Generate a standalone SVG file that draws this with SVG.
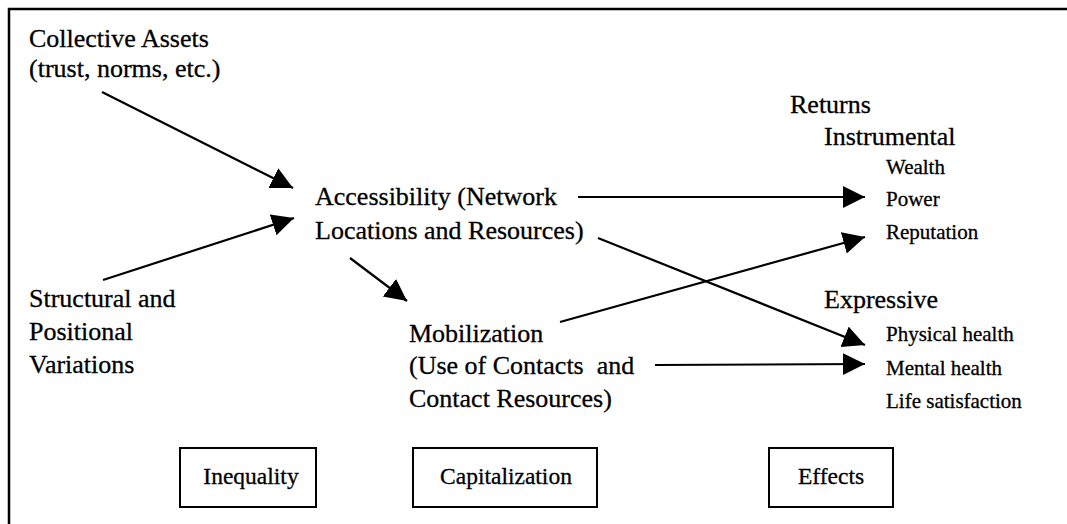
<svg xmlns="http://www.w3.org/2000/svg" width="1067" height="524" viewBox="0 0 1067 524" font-family="'Liberation Serif', 'Times New Roman', Times, 'DejaVu Serif', serif">
  <style>
    text { font-family: 'Liberation Serif', 'Times New Roman', Times, 'DejaVu Serif', serif; fill: #000; stroke: #000; stroke-width: 0.3; }
    .big { font-size: 26px; }
    .small { font-size: 21px; }
    .box-label { font-size: 23.5px; text-anchor: middle; }
    .frame { stroke: #000; stroke-width: 2.5; fill: none; }
    .box { fill: #fff; stroke: #000; stroke-width: 2; }
    .conn { stroke: #000; stroke-width: 2.2; fill: none; marker-end: url(#head); }
  </style>
  <defs>
    <marker id="head" markerUnits="userSpaceOnUse" markerWidth="24" markerHeight="24" refX="22" refY="11" orient="auto">
      <path d="M0,0 L22,11 L0,22 Z" fill="#000"/>
    </marker>
  </defs>

  <rect width="1067" height="524" fill="#fff"/>

  <!-- frame: top and left rules -->
  <path class="frame" d="M9,524 V9 H1067"/>

  <g id="collective-assets">
    <text class="big" x="29" y="47">Collective Assets</text>
    <text class="big" x="29" y="77">(trust, norms, etc.)</text>
  </g>

  <g id="structural-variations">
    <text class="big" x="29" y="307">Structural and</text>
    <text class="big" x="29" y="340">Positional</text>
    <text class="big" x="29" y="373">Variations</text>
  </g>

  <g id="accessibility">
    <text class="big" x="315" y="205">Accessibility (Network</text>
    <text class="big" x="315" y="239">Locations and Resources)</text>
  </g>

  <g id="mobilization">
    <text class="big" x="409" y="342">Mobilization</text>
    <text class="big" x="409" y="374" xml:space="preserve">(Use of Contacts  and</text>
    <text class="big" x="409" y="407">Contact Resources)</text>
  </g>

  <g id="returns">
    <text class="big" x="790" y="113">Returns</text>
    <text class="big" x="824" y="145">Instrumental</text>
    <text class="small" x="886" y="174">Wealth</text>
    <text class="small" x="886" y="206">Power</text>
    <text class="small" x="886" y="239">Reputation</text>
    <text class="big" x="824" y="308">Expressive</text>
    <text class="small" x="886" y="341">Physical health</text>
    <text class="small" x="886" y="375">Mental health</text>
    <text class="small" x="886" y="408">Life satisfaction</text>
  </g>

  <g id="inequality">
    <rect class="box" x="180" y="448" width="136" height="59"/>
    <text class="box-label" x="251" y="484">Inequality</text>
  </g>

  <g id="capitalization">
    <rect class="box" x="413" y="448" width="184" height="59"/>
    <text class="box-label" x="506" y="484">Capitalization</text>
  </g>

  <g id="effects">
    <rect class="box" x="769" y="448" width="124" height="59"/>
    <text class="box-label" x="831" y="484">Effects</text>
  </g>

  <g id="connectors">
    <line class="conn" x1="102" y1="92" x2="293" y2="188"/>
    <line class="conn" x1="103" y1="280" x2="294" y2="218"/>
    <line class="conn" x1="350" y1="258" x2="407" y2="301"/>
    <line class="conn" x1="578" y1="197" x2="865" y2="197"/>
    <line class="conn" x1="598" y1="238" x2="865" y2="345"/>
    <line class="conn" x1="560" y1="322" x2="865" y2="237"/>
    <line class="conn" x1="655" y1="365" x2="865" y2="364"/>
  </g>
</svg>
